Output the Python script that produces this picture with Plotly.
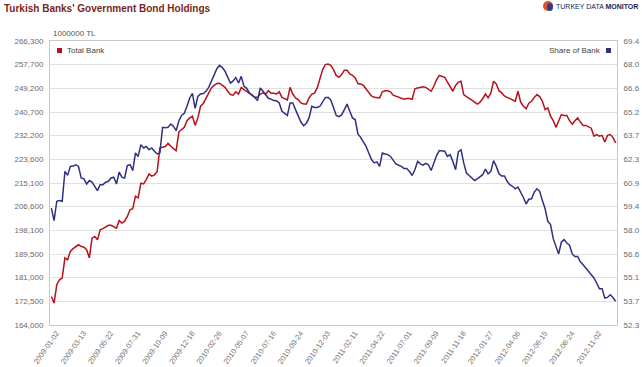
import pandas as pd
import plotly.graph_objects as go

# ---------------- data ----------------
start_date = "2009-01-02"
n_weeks = 209
dates = pd.date_range(start_date, periods=n_weeks, freq="7D")

total_bank = [
    174300, 171900, 178500, 180300, 180900, 188200, 187500, 190500, 191500, 192300,
    192900, 192300, 192000, 191100, 188200, 195300, 195900, 194700, 198300, 198700,
    199200, 199900, 199900, 199500, 198900, 201600, 200700, 201400, 203100, 205500,
    205900, 210400, 209800, 215100, 214800, 216400, 218400, 217600, 218100, 219300,
    227800, 228000, 228300, 229400, 228300, 227500, 226800, 233500, 234400, 235200,
    237600, 238600, 239200, 235900, 238600, 242800, 243800, 245800, 247600, 249400,
    250300, 251000, 251100, 250500, 249600, 248200, 247000, 246800, 248000, 247200,
    249600, 248800, 248200, 247600, 246800, 246000, 246000, 247200, 247600, 247200,
    248400, 247500, 247500, 247200, 248000, 246000, 245600, 245100, 249600, 247200,
    245800, 245200, 244000, 243600, 243600, 245800, 247200, 247500, 249400, 252400,
    256000, 257800, 258000, 257500, 256000, 253900, 253200, 254200, 255800, 255800,
    254400, 253900, 253000, 251000, 250800, 250300, 249100, 247600, 246500, 246000,
    246000, 245800, 248000, 248400, 248400, 248000, 246800, 246400, 246000, 245800,
    245300, 245600, 245600, 245300, 249100, 249400, 249600, 249800, 249600, 248800,
    248200, 250000, 252400, 253900, 253500, 253200, 251500, 249600, 248200, 250300,
    251500, 251800, 247000, 246300, 245800, 245000, 244300, 243600, 244300, 245500,
    247200, 245800, 247600, 251800, 250800, 248400, 247600, 246500, 246000, 245500,
    245000, 244600, 248200, 244300, 242800, 241900, 243900, 244600, 246000, 247000,
    246300, 244600, 241600, 242200, 239200, 237600, 235200, 237400, 239800, 239500,
    239500, 237600, 236300, 237600, 238600, 237100, 235900, 235900, 235500, 234900,
    232000, 232600, 232000, 232300, 229900, 232300, 232600, 231600, 229600,
]

share_of_bank = [
    59.34, 58.58, 59.75, 59.80, 59.75, 61.55, 61.31, 61.85, 61.87, 61.95,
    61.85, 61.15, 61.10, 60.79, 61.00, 60.90, 60.65, 60.39, 60.75, 60.75,
    60.90, 60.95, 61.15, 61.20, 60.79, 61.50, 61.20, 61.15, 61.90, 61.95,
    61.60, 62.66, 62.45, 63.16, 62.96, 63.05, 62.85, 62.96, 62.76, 62.60,
    62.66, 64.20, 64.17, 64.20, 64.40, 64.27, 64.00, 64.60, 64.92, 65.05,
    65.47, 65.97, 66.25, 65.35, 66.07, 66.21, 66.24, 66.37, 66.61, 66.98,
    67.33, 67.73, 67.93, 67.80, 67.58, 67.27, 66.87, 67.00, 67.20, 66.87,
    67.27, 66.67, 66.55, 66.27, 66.15, 66.00, 65.81, 66.57, 66.37, 66.15,
    65.95, 65.90, 65.81, 65.80, 65.67, 65.17, 65.07, 64.92, 65.67, 65.67,
    65.27, 64.92, 64.52, 64.30, 64.45, 64.77, 65.47, 65.40, 65.40, 65.47,
    65.77, 66.00, 66.00, 65.85, 65.40, 64.92, 64.85, 64.95, 65.27, 65.60,
    65.17, 64.77, 64.67, 63.80, 63.60, 63.32, 63.05, 62.66, 62.26, 62.06,
    62.12, 61.85, 62.66, 62.60, 62.56, 62.45, 62.20, 62.00, 61.92, 61.85,
    61.72, 61.72, 61.55, 61.30, 61.65, 62.15, 62.00, 61.92, 62.03, 61.95,
    61.60, 62.06, 62.50, 62.80, 62.80, 62.76, 62.45, 62.56, 62.15, 61.65,
    62.72, 62.85, 62.06, 61.45, 61.30, 61.15, 61.00, 61.10, 61.25, 61.35,
    61.69, 61.40, 61.55, 62.20, 61.85, 61.40, 61.27, 61.27, 60.95, 60.75,
    60.65, 60.50, 60.60, 60.30, 59.98, 59.58, 59.87, 59.90, 60.30, 60.50,
    60.35, 59.79, 59.30, 58.54, 58.35, 57.50, 57.03, 56.58, 57.30, 57.44,
    57.24, 57.10, 56.58, 56.42, 56.43, 56.10, 55.93, 55.73, 55.50, 55.29,
    55.13, 54.83, 54.49, 54.49, 53.92, 53.96, 54.12, 53.96, 53.73,
]

x_tick_labels = [
    "2009-01-02", "2009-03-13", "2009-05-22", "2009-07-31", "2009-10-09",
    "2009-12-18", "2010-02-26", "2010-05-07", "2010-07-16", "2010-09-24",
    "2010-12-03", "2011-02-11", "2011-04-22", "2011-07-01", "2011-09-09",
    "2011-11-18", "2012-01-27", "2012-04-06", "2012-06-15", "2012-08-24",
    "2012-11-02",
]

left_tick_labels = ["164,000", "172,500", "181,000", "189,500", "198,100", "206,600",
                    "215,100", "223,600", "232,200", "240,700", "249,200", "257,700",
                    "266,300"]
right_tick_labels = ["52.3", "53.7", "55.1", "56.6", "58.0", "59.4", "60.9",
                     "62.3", "63.7", "65.2", "66.6", "68.0", "69.4"]
left_min, left_max = 164000, 266300
right_min, right_max = 52.3, 69.4

title_text = "Turkish Banks' Government Bond Holdings"
unit_text = "1000000 TL"
series_names = ["Total Bank", "Share of Bank"]

# ---------------- styling ----------------
RED = "#B5121B"
BLUE = "#2E3182"
FONT = "Arial, Liberation Sans, sans-serif"
GRID = "#E0E0E0"
TICK = "#6A6A6A"

ML, MR, MT, MB = 50, 25, 41, 42
W, H = 642, 367

n_int = len(left_tick_labels) - 1
left_vals = [left_min + k * (left_max - left_min) / n_int for k in range(n_int + 1)]
right_vals = [right_min + k * (right_max - right_min) / n_int for k in range(n_int + 1)]

fig = go.Figure()
fig.add_trace(go.Scatter(x=dates, y=total_bank, name=series_names[0], mode="lines",
                         line=dict(color=RED, width=1.5), yaxis="y"))
fig.add_trace(go.Scatter(x=dates, y=share_of_bank, name=series_names[1], mode="lines",
                         line=dict(color=BLUE, width=1.5), yaxis="y2"))

half_week = pd.Timedelta(days=3.5)
fig.update_layout(
    width=W, height=H,
    margin=dict(l=ML, r=MR, t=MT, b=MB, autoexpand=False),
    paper_bgcolor="white", plot_bgcolor="white",
    showlegend=False,
    font=dict(family=FONT, size=8, color=TICK),
    xaxis=dict(
        type="date", automargin=False,
        range=[dates[0] - half_week, dates[-1] + half_week],
        tickvals=x_tick_labels, ticktext=x_tick_labels,
        tickangle=-55, showgrid=False, zeroline=False,
        showline=True, linecolor="#C8C8C8", linewidth=1, mirror=True,
        ticks="", ticklabelshift=5, ticklabelstandoff=0,
        tickfont=dict(size=7.5, color="#777777"),
    ),
    yaxis=dict(
        automargin=False,
        range=[left_min, left_max], tickvals=left_vals, ticktext=left_tick_labels,
        showgrid=True, gridcolor=GRID, gridwidth=1, zeroline=False,
        showline=True, linecolor="#C8C8C8", linewidth=1,
        ticks="outside", ticklen=4, tickcolor="white",
        tickfont=dict(size=8, color=TICK),
    ),
    yaxis2=dict(
        automargin=False,
        overlaying="y", side="right",
        range=[right_min, right_max], tickvals=right_vals, ticktext=right_tick_labels,
        showgrid=False, zeroline=False,
        showline=True, linecolor="#C8C8C8", linewidth=1,
        ticks="outside", ticklen=4, tickcolor="white",
        tickfont=dict(size=8, color=TICK),
    ),
)

pw, ph = W - ML - MR, H - MT - MB

def px_x(x):
    return (x - ML) / pw

def px_y(y_top):
    return (H - y_top - MB) / ph

annotations = [
    dict(text="<b>" + title_text + "</b>", x=px_x(2), y=px_y(9),
         xanchor="left", yanchor="middle",
         font=dict(family=FONT, size=10, color="#7A1F25")),
    dict(text=unit_text, x=px_x(51), y=px_y(34), xanchor="left", yanchor="middle",
         font=dict(family=FONT, size=8, color="#555555")),
    dict(text=series_names[0], x=px_x(65), y=px_y(51), xanchor="left", yanchor="middle",
         font=dict(family=FONT, size=8, color="#444444")),
    dict(text=series_names[1], x=px_x(603), y=px_y(51), xanchor="right", yanchor="middle",
         font=dict(family=FONT, size=8, color="#444444")),
    dict(text="TURKEY DATA <b>MONITOR</b>", x=px_x(640), y=px_y(6), xanchor="right",
         yanchor="middle", font=dict(family=FONT, size=7, color="#1C2350")),
]
for a in annotations:
    a.update(xref="paper", yref="paper", showarrow=False)
fig.update_layout(annotations=annotations)

def px_shape(x0, y0, x1, y1, color, kind="rect"):
    return dict(type=kind, xref="paper", yref="paper",
                x0=px_x(x0), x1=px_x(x1), y0=px_y(y0), y1=px_y(y1),
                fillcolor=color, line=dict(width=0))

shapes = [
    px_shape(57, 48, 62, 53, RED),
    px_shape(606, 48, 611, 53, BLUE),
    px_shape(543, 1, 553, 11, "#E0502A", kind="circle"),
    px_shape(547, 3, 553, 11, "#2E3C8C", kind="circle"),
]
fig.update_layout(shapes=shapes)

fig.write_html(
    "out.html",
    config={"displayModeBar": False},
    post_script="document.body.style.margin='0';document.body.style.overflow='hidden';",
)
